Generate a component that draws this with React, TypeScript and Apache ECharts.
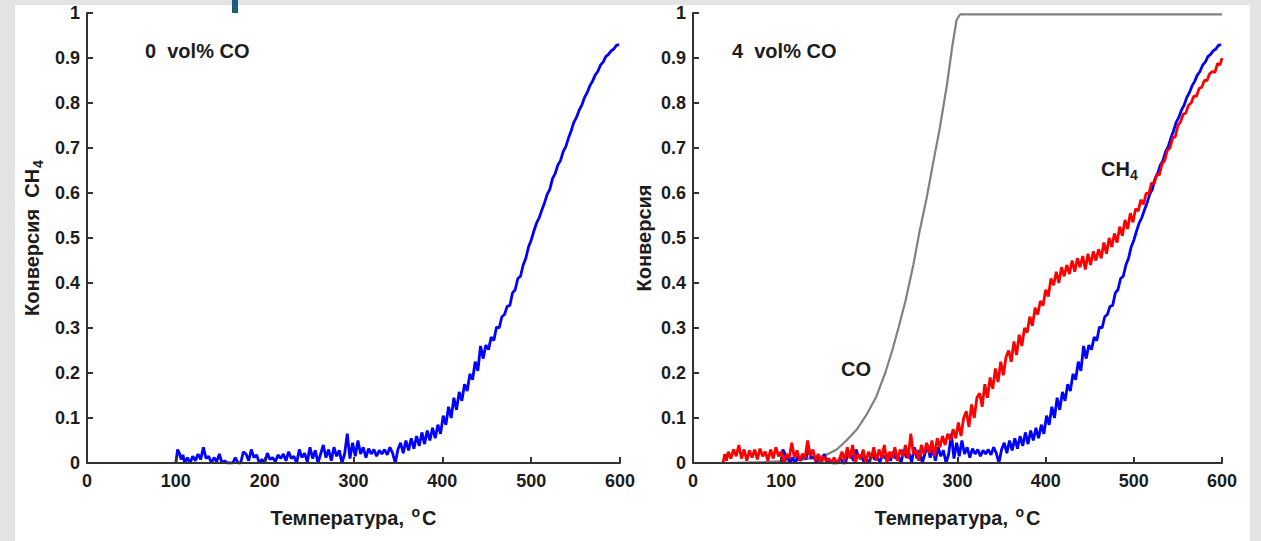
import React, { useEffect, useRef } from "react";
import * as echarts from "echarts";

// Temperature ticks
const xTicks = [0, 100, 200, 300, 400, 500, 600];

// CH4 conversion without CO (blue) — [T °C, conversion]
const ch4NoCO: [number, number][] = [
  [100, 0.0], [102, 0.03], [104, 0.022], [106, 0.008], [108, 0.018], [110, 0.0], [113, 0.012], [116, 0.0],
  [119, 0.015], [122, 0.005], [125, 0.02], [128, 0.008], [131, 0.035], [134, 0.01], [137, 0.015], [140, 0.0],
  [143, 0.012], [146, 0.003], [149, 0.02], [152, 0.0], [155, 0.005], [158, 0.0], [161, 0.0], [164, 0.0],
  [167, 0.012], [170, 0.0], [173, 0.0], [176, 0.025], [179, 0.02], [182, 0.005], [185, 0.03], [188, 0.012],
  [191, 0.018], [194, 0.0], [197, 0.008], [200, 0.0], [203, 0.022], [206, 0.008], [209, 0.012], [212, 0.003],
  [215, 0.018], [218, 0.01], [221, 0.02], [224, 0.005], [227, 0.025], [230, 0.01], [233, 0.015], [236, 0.0],
  [239, 0.03], [242, 0.012], [245, 0.022], [248, 0.002], [251, 0.035], [254, 0.01], [257, 0.028], [260, 0.0],
  [263, 0.02], [266, 0.04], [269, 0.012], [272, 0.03], [275, 0.005], [278, 0.035], [281, 0.015], [284, 0.028],
  [287, 0.0], [290, 0.02], [293, 0.065], [296, 0.01], [299, 0.045], [302, 0.015], [305, 0.05], [308, 0.02],
  [311, 0.035], [314, 0.012], [317, 0.032], [320, 0.02], [323, 0.03], [326, 0.015], [329, 0.028], [332, 0.02],
  [335, 0.03], [338, 0.018], [341, 0.035], [344, 0.022], [347, 0.0], [350, 0.03], [353, 0.045], [356, 0.022],
  [359, 0.05], [362, 0.028], [365, 0.055], [368, 0.032], [371, 0.06], [374, 0.038], [377, 0.068], [380, 0.042],
  [383, 0.072], [386, 0.05], [389, 0.078], [392, 0.055], [395, 0.085], [398, 0.065], [401, 0.105], [404, 0.085],
  [407, 0.125], [410, 0.1], [413, 0.145], [416, 0.118], [419, 0.158], [422, 0.138], [425, 0.175], [428, 0.16],
  [431, 0.198], [434, 0.185], [437, 0.225], [440, 0.205], [443, 0.26], [446, 0.232], [449, 0.262], [452, 0.252],
  [455, 0.28], [458, 0.272], [461, 0.302], [464, 0.3], [467, 0.325], [470, 0.33], [473, 0.348], [476, 0.35],
  [479, 0.378], [482, 0.385], [485, 0.41], [488, 0.415], [491, 0.44], [494, 0.455], [497, 0.48], [500, 0.495],
  [503, 0.515], [506, 0.533], [509, 0.545], [512, 0.562], [515, 0.578], [518, 0.597], [521, 0.608], [524, 0.632],
  [527, 0.643], [530, 0.662], [533, 0.672], [536, 0.692], [539, 0.703], [542, 0.722], [545, 0.738], [548, 0.757],
  [551, 0.768], [554, 0.784], [557, 0.795], [560, 0.812], [563, 0.823], [566, 0.838], [569, 0.848], [572, 0.862],
  [575, 0.87], [578, 0.884], [581, 0.891], [584, 0.903], [587, 0.908], [590, 0.916], [593, 0.92], [596, 0.928],
  [599, 0.93],
];

// CH4 conversion with 4 vol% CO (red)
const ch4WithCO: [number, number][] = [
  [34, 0.0], [36, 0.02], [38, 0.005], [40, 0.025], [43, 0.01], [46, 0.03], [49, 0.015], [52, 0.04],
  [55, 0.01], [58, 0.03], [61, 0.005], [64, 0.028], [67, 0.012], [70, 0.03], [73, 0.008], [76, 0.032],
  [79, 0.015], [82, 0.025], [85, 0.005], [88, 0.03], [91, 0.01], [94, 0.035], [97, 0.015], [100, 0.025],
  [103, 0.0], [106, 0.02], [109, 0.01], [112, 0.045], [115, 0.012], [118, 0.028], [121, 0.005], [124, 0.02],
  [127, 0.01], [130, 0.05], [133, 0.015], [136, 0.03], [139, 0.005], [142, 0.02], [145, 0.0], [148, 0.015],
  [151, 0.005], [154, 0.01], [157, 0.0], [160, 0.012], [163, 0.0], [166, 0.008], [169, 0.025], [172, 0.005],
  [175, 0.035], [178, 0.01], [181, 0.04], [184, 0.0], [187, 0.02], [190, 0.008], [193, 0.03], [196, 0.0],
  [199, 0.025], [202, 0.01], [205, 0.035], [208, 0.005], [211, 0.03], [214, 0.012], [217, 0.04], [220, 0.0],
  [223, 0.025], [226, 0.01], [229, 0.035], [232, 0.005], [235, 0.03], [238, 0.015], [241, 0.04], [244, 0.01],
  [247, 0.065], [250, 0.02], [253, 0.03], [256, 0.005], [259, 0.04], [262, 0.02], [265, 0.045], [268, 0.022],
  [271, 0.05], [274, 0.015], [277, 0.055], [280, 0.035], [283, 0.06], [286, 0.04], [289, 0.065], [292, 0.05],
  [295, 0.075], [298, 0.055], [301, 0.09], [304, 0.06], [307, 0.1], [310, 0.115], [313, 0.08], [316, 0.13],
  [319, 0.1], [322, 0.145], [325, 0.155], [328, 0.125], [331, 0.175], [334, 0.145], [337, 0.19], [340, 0.165],
  [343, 0.21], [346, 0.18], [349, 0.225], [352, 0.195], [355, 0.235], [358, 0.25], [361, 0.225], [364, 0.27],
  [367, 0.24], [370, 0.285], [373, 0.26], [376, 0.3], [379, 0.29], [382, 0.325], [385, 0.305], [388, 0.345],
  [391, 0.33], [394, 0.36], [397, 0.35], [400, 0.385], [403, 0.37], [406, 0.41], [409, 0.395], [412, 0.425],
  [415, 0.4], [418, 0.435], [421, 0.415], [424, 0.44], [427, 0.42], [430, 0.45], [433, 0.425], [436, 0.455],
  [439, 0.435], [442, 0.46], [445, 0.43], [448, 0.465], [451, 0.44], [454, 0.47], [457, 0.45], [460, 0.475],
  [463, 0.455], [466, 0.49], [469, 0.465], [472, 0.5], [475, 0.48], [478, 0.51], [481, 0.49], [484, 0.525],
  [487, 0.505], [490, 0.54], [493, 0.52], [496, 0.555], [499, 0.535], [502, 0.565], [505, 0.56], [508, 0.585],
  [511, 0.575], [514, 0.6], [517, 0.598], [520, 0.622], [523, 0.62], [526, 0.642], [529, 0.64], [532, 0.665],
  [535, 0.672], [538, 0.695], [541, 0.7], [544, 0.722], [547, 0.725], [550, 0.75], [553, 0.758], [556, 0.775],
  [559, 0.778], [562, 0.795], [565, 0.8], [568, 0.815], [571, 0.815], [574, 0.832], [577, 0.835], [580, 0.85],
  [583, 0.85], [586, 0.865], [589, 0.87], [592, 0.868], [595, 0.888], [598, 0.885], [600, 0.9],
];

// CO conversion (gray)
const coConv: [number, number][] = [
  [40, 0.0], [80, 0.002], [100, 0.004], [120, 0.007], [140, 0.012], [151, 0.018], [163, 0.03], [174, 0.05],
  [186, 0.075], [197, 0.108], [208, 0.148], [218, 0.2], [226, 0.25], [233, 0.3], [241, 0.36], [250, 0.441],
  [257, 0.515], [265, 0.589], [272, 0.663], [280, 0.745], [288, 0.84], [294, 0.925], [299, 0.985], [303, 0.997],
  [600, 0.997],
];

// short initial baseline (purple)
const baseline: [number, number][] = [[0, 0], [50, 0]];

const FONT = "'Liberation Sans', Arial, sans-serif";
const AXIS_COLOR = "#333";
const TEXT_COLOR = "#1c1c1c";

function xAxisOf(gridIndex: number) {
  return {
    gridIndex,
    type: "value",
    min: xTicks[0],
    max: xTicks[xTicks.length - 1],
    interval: 100,
    z: 5,
    axisLine: { show: true, lineStyle: { color: AXIS_COLOR, width: 2 } },
    axisTick: { show: true, inside: true, length: 6, lineStyle: { color: AXIS_COLOR, width: 2 } },
    splitLine: { show: false },
    axisLabel: { color: TEXT_COLOR, fontFamily: FONT, fontWeight: "bold", fontSize: 18, margin: 9 },
    name: "{t|Температура, }{s|o}{t|C}",
    nameLocation: "middle",
    nameGap: 43,
    nameTextStyle: {
      rich: {
        t: { fontFamily: FONT, fontWeight: "bold", fontSize: 20, color: TEXT_COLOR, lineHeight: 24 },
        s: { fontFamily: FONT, fontWeight: "bold", fontSize: 14, color: TEXT_COLOR, lineHeight: 24, padding: [0, 2, 12, 2] },
      },
    },
  };
}

function yAxisOf(gridIndex: number, name: string, gap: number) {
  return {
    gridIndex,
    type: "value",
    min: 0,
    max: 1,
    interval: 0.1,
    z: 5,
    axisLine: { show: true, lineStyle: { color: AXIS_COLOR, width: 2 } },
    axisTick: { show: true, inside: true, length: 6, lineStyle: { color: AXIS_COLOR, width: 2 } },
    splitLine: { show: false },
    axisLabel: {
      color: TEXT_COLOR, fontFamily: FONT, fontWeight: "bold", fontSize: 18, margin: 7,
      formatter: (v: number) => (v === 0 ? "0" : v === 1 ? "1" : v.toFixed(1)),
    },
    name,
    nameLocation: "middle",
    nameGap: gap,
    nameTextStyle: {
      rich: {
        t: { fontFamily: FONT, fontWeight: "bold", fontSize: 20, color: TEXT_COLOR, lineHeight: 24 },
        s: { fontFamily: FONT, fontWeight: "bold", fontSize: 14, color: TEXT_COLOR, lineHeight: 24, padding: [12, 0, 0, 1] },
      },
    },
  };
}

function lineSeries(name: string, data: [number, number][], color: string, width: number, idx: number) {
  return {
    name,
    type: "line",
    xAxisIndex: idx,
    yAxisIndex: idx,
    data,
    showSymbol: false,
    symbol: "none",
    lineStyle: { color, width },
    itemStyle: { color },
    z: 2,
  };
}

export default function App() {
  const ref = useRef<HTMLDivElement>(null);
  useEffect(() => {
    if (!ref.current) return;
    const chart = echarts.init(ref.current, undefined, { renderer: "svg" });
    const annot = (text: string, x: number, y: number) => ({
      type: "text",
      left: x,
      top: y,
      style: { text, fontFamily: FONT, fontWeight: "bold", fontSize: 20, fill: TEXT_COLOR },
    });
    chart.setOption({
      animation: false,
      grid: [
        { left: 87, top: 13, width: 533, height: 450 },
        { left: 693, top: 13, width: 529, height: 450 },
      ],
      xAxis: [xAxisOf(0), xAxisOf(1)],
      yAxis: [yAxisOf(0, "{t|Конверсия  CH}{s|4}", 43), yAxisOf(1, "{t|Конверсия}", 37)],
      series: [
        lineSeries("baseline-0", baseline, "#c070c0", 1.5, 0),
        lineSeries("CH4 0% CO", ch4NoCO, "#0000ff", 2.8, 0),
        lineSeries("baseline-1", baseline, "#c070c0", 1.5, 1),
        lineSeries("CO", coConv, "#808080", 2.2, 1),
        lineSeries("CH4 0% CO (ref)", ch4NoCO, "#0000ff", 2.8, 1),
        lineSeries("CH4 4% CO", ch4WithCO, "#ff0000", 2.8, 1),
      ],
      graphic: [
        annot("0  vol% CO", 145, 41),
        annot("4  vol% CO", 732, 41),
        annot("CO", 841, 359),
        {
          type: "text",
          left: 1101,
          top: 156,
          style: {
            text: "{t|CH}{s|4}",
            rich: {
              t: { fontFamily: FONT, fontWeight: "bold", fontSize: 20, fill: TEXT_COLOR, lineHeight: 24 },
              s: { fontFamily: FONT, fontWeight: "bold", fontSize: 14, fill: TEXT_COLOR, lineHeight: 24, padding: [12, 0, 0, 0] },
            },
          },
        },
      ],
    });
    return () => chart.dispose();
  }, []);

  return (
    <div style={{ position: "fixed", left: 0, top: 0, width: 1261, height: 541, background: "#e3e3e3", overflow: "hidden" }}>
      <div style={{ position: "absolute", left: 15, top: 5, width: 1235, height: 536, background: "#ffffff" }} />
      <div style={{ position: "absolute", left: 232, top: 0, width: 6, height: 13, background: "#19607e" }} />
      <div ref={ref} style={{ position: "absolute", left: 0, top: 0, width: 1261, height: 541 }} />
    </div>
  );
}
